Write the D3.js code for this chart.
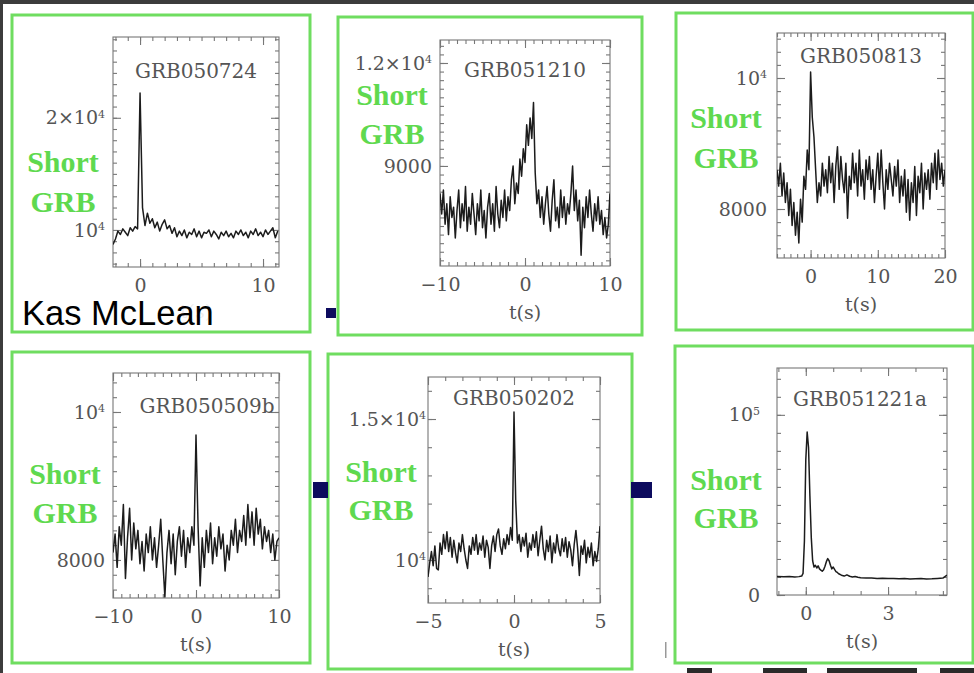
<!DOCTYPE html>
<html><head><meta charset="utf-8">
<script src="https://cdn.jsdelivr.net/npm/d3@7"></script>
<style>body{margin:0;background:#fff}svg{display:block}</style>
</head><body>
<svg id="c" width="974" height="673"></svg>
<script>
// ---------------- DATA ----------------
const grbNames = ["GRB050724","GRB051210","GRB050813","GRB050509b","GRB050202","GRB051221a"];
const sideLabel = ["Short","GRB"];
const xAxisTitle = "t(s)";
const credit = "Kas McLean";

// GRB050724 (bins of 0.2 s starting at -2.2 s)
const start050724 = -2.2, bin050724 = 0.2;
const counts050724 = [8700,9200,9900,9600,10100,9800,9500,10200,9900,10300,10100,22200,12000,10400,11500,10600,11000,10200,10700,9900,
  10500,10900,10100,10400,9700,10200,9400,9900,9500,10000,9300,9800,9600,10100,9400,9900,9300,9800,9700,10000,
  9400,9900,9600,9200,9800,9500,9900,9400,9700,9300,9900,9600,10000,9500,9800,9300,9900,9600,10100,9500,
  9800,9400,10000,9600,9900,10200,9300,9900];

// GRB051210 (bins of 0.2 s starting at -10 s)
const start051210 = -10, bin051210 = 0.2;
const counts051210 = [8200,7600,8300,7300,7900,7000,8100,7500,7800,6900,7700,8300,7200,7900,7400,8400,7100,7800,7300,8200,
  7600,7000,7900,7400,8300,7200,7700,6900,7800,8200,7300,7900,7100,8400,7600,7200,8000,7500,8300,7400,
  8100,7700,8600,9000,7900,8500,8200,9200,8700,9500,9100,10200,9600,10400,9800,10850,8800,7900,8300,7500,
  8100,7300,7900,8400,7600,7100,8000,8600,7400,7800,7200,8300,7500,8100,7300,7900,7600,8200,9000,7700,
  8300,7400,8000,6400,7800,7200,8100,7500,8300,7600,7100,7900,7400,8100,7300,7700,7000,7500,6900,7300,8200];

// GRB050813 (bins of 0.25 s starting at -5 s)
const start050813 = -5, bin050813 = 0.25;
const counts050813 = [8600,8350,8700,8200,8550,8100,8400,7900,8300,7750,8100,7600,7950,7480,8150,7800,8500,8300,8900,8600,
  10090,9400,9100,8600,8100,8400,8200,8700,8350,8600,8250,8800,8400,8700,8100,8650,8950,8300,8800,8450,
  8250,8700,7860,8500,8300,8850,8400,8700,8200,8900,8350,8600,8150,8750,8450,8800,8300,8600,8100,8500,
  8850,8300,8900,8400,8000,8600,8300,8700,8450,8200,8650,8350,8750,8100,8500,8200,8600,7950,8450,7830,
  8400,8100,8650,7900,8500,8250,8700,8000,8550,8300,8600,8150,8700,8400,8850,8300,8900,8450,8700,8350,8600];

// GRB050509b (bins of 0.25 s starting at -10 s)
const start050509b = -10, bin050509b = 0.25;
const counts050509b = [8100,8350,7900,8450,8200,8750,7750,8300,8700,8000,8500,8150,8400,7950,8250,7850,8350,8100,8450,8000,
  8300,7900,8200,8550,8000,7500,8100,8400,7950,8350,7800,8250,8450,8050,8400,7900,8300,8100,8450,8200,
  9690,8450,7650,8300,7900,8400,8100,8500,7950,8300,8050,8450,8150,8350,7850,8200,8000,8400,8200,8550,
  8100,8400,8250,8600,8200,8750,8300,8650,8200,8700,8350,8550,8150,8450,8250,8400,8100,8350,8000,8250,8300];

// GRB050202 (bins of 0.1 s starting at -5 s)
const start050202 = -5, bin050202 = 0.1;
const counts050202 = [9400,9900,10300,9800,10500,9700,9650,10600,10200,10900,10400,11000,10300,10800,10100,10700,10250,9900,10600,10300,
  10900,10400,10000,9700,10500,10200,10800,10350,10900,10200,10600,10350,10850,10100,10700,10450,9700,10500,10850,10300,
  10900,11100,10500,10200,10750,10400,10900,10550,11150,10700,15250,12100,10600,10900,10300,10800,10500,10950,10100,10600,
  10350,10900,10450,11000,10150,10700,11200,10400,10000,10700,10300,10850,9900,10600,10250,10900,10400,10150,10750,10300,
  10800,10100,10650,10350,9800,10550,11050,10400,9450,10500,10200,10700,9900,10450,10100,10600,9800,10300,9950,10400,11200];

// GRB051221a (explicit times, s)
const times051221a = [-1.05,-0.8,-0.6,-0.4,-0.25,-0.15,-0.1,-0.05,0,0.05,0.1,0.15,0.2,0.25,0.3,0.35,0.4,0.45,0.5,0.55,
  0.6,0.65,0.7,0.75,0.8,0.85,0.9,0.95,1.0,1.05,1.1,1.15,1.2,1.3,1.4,1.5,1.6,1.7,1.8,1.9,
  2.0,2.2,2.4,2.6,2.8,3.0,3.2,3.4,3.6,3.8,4.0,4.2,4.4,4.6,4.8,5.0,5.15];
const counts051221a = [10200,10100,10300,10000,10200,10500,12000,30000,75000,90500,82000,55000,32000,19000,15500,16500,15000,16200,14500,13800,
  13200,14000,16000,18500,20200,19000,16500,14500,15500,14200,13000,12500,11800,11000,10500,11200,10400,10000,10300,9900,
  9600,9400,9500,9200,9300,9100,9200,9000,9100,8900,9000,9100,8900,9000,9200,9400,11000];

// Axis ranges and ticks
const xDomains = [[-2.2,11.3],[-10,10],[-5,20],[-10,10],[-5,5],[-1.05,5.15]];
const yDomains = [[6700,27200],[6085,12670],[7252,10687],[7486,10527],[8475,16490],[0,126000]];
const xTickVals = [[0,10],[-10,0,10],[0,10,20],[-10,0,10],[-5,0,5],[0,3]];
const xTickLabels = [["0","10"],["\u221210","0","10"],["0","10","20"],["\u221210","0","10"],["\u22125","0","5"],["0","3"]];
const xMinorStep = [1,1,1,1,1,1];
const yTickVals = [[10000,20000],[9000,12000],[8000,10000],[8000,10000],[10000,15000],[0,100000]];
const yTickLabels = [["10^4","2\u00d710^4"],["9000","1.2\u00d710^4"],["8000","10^4"],["8000","10^4"],["10^4","1.5\u00d710^4"],["0","10^5"]];
const yMinorStep = [1000,250,200,200,1000,10000];

// ---------------- LAYOUT ----------------
const boxes  = [[12,15,310,332],[338,17,642,335],[676,13,973,330],[12,352,310,663],[328,354,632,669],[675,346,973,663]];
const frames = [[113,37,279,267],[440,40,610,266],[777,33,945,258],[113,373,279,598],[428,377,600,603],[777,368,947,595]];
const titleBase = [41,37,30,40,28,38];
const titleShift = [0,0,0,11,0,-2];
const axTitleOff = [51,53,53,53,53,53];
const shortPos = [[63,172,212],[392,105,144],[726,128,168],[65,484,523],[381,482,520],[726,490,528]];
const yLabPad = [8,8,10,8,2,17];

const series = [
  counts050724.map((v,i)=>({t:start050724+i*bin050724, c:v})),
  counts051210.map((v,i)=>({t:start051210+i*bin051210, c:v})),
  counts050813.map((v,i)=>({t:start050813+i*bin050813, c:v})),
  counts050509b.map((v,i)=>({t:start050509b+i*bin050509b, c:v})),
  counts050202.map((v,i)=>({t:start050202+i*bin050202, c:v})),
  counts051221a.map((v,i)=>({t:times051221a[i], c:v}))
];

const svg = d3.select("#c");
const GREEN = "#5fd94f";
const TXT = "#555";
const TICK = "#777";

svg.append("rect").attr("width",974).attr("height",673).attr("fill","#fff");

function supText(sel, lab){
  sel.text(null);
  const parts = lab.split("^");
  sel.append("tspan").text(parts[0]);
  if(parts[1]) sel.append("tspan").attr("dy","-0.6em").attr("font-size","0.58em").text(parts[1]);
}

series.forEach((data,k)=>{
  const [bx0,by0,bx1,by1] = boxes[k];
  svg.append("rect").attr("x",bx0).attr("y",by0).attr("width",bx1-bx0).attr("height",by1-by0)
    .attr("fill","none").attr("stroke",GREEN).attr("stroke-width",3).attr("opacity",0.9);

  const [fx0,fy0,fx1,fy1] = frames[k];
  const w = fx1-fx0, h = fy1-fy0;
  const g = svg.append("g").attr("transform",`translate(${fx0},${fy0})`);
  const x = d3.scaleLinear().domain(xDomains[k]).range([0,w]);
  const y = d3.scaleLinear().domain(yDomains[k]).range([h,0]);

  const xd = xDomains[k], yd = yDomains[k];
  const xMinor = d3.range(Math.ceil(xd[0]/xMinorStep[k])*xMinorStep[k], xd[1]+1e-9, xMinorStep[k]);
  const yMinor = d3.range(Math.ceil(yd[0]/yMinorStep[k])*yMinorStep[k], yd[1]+1e-9, yMinorStep[k]);

  const styleAxis = (a)=>{ a.select(".domain").remove(); a.selectAll("line").attr("stroke",TICK).attr("stroke-width",1.1); };
  // minor ticks
  g.append("g").attr("transform",`translate(0,${h})`).call(d3.axisBottom(x).tickValues(xMinor).tickSizeInner(-4).tickSizeOuter(0).tickFormat("")).call(styleAxis);
  g.append("g").call(d3.axisTop(x).tickValues(xMinor).tickSizeInner(-4).tickSizeOuter(0).tickFormat("")).call(styleAxis);
  g.append("g").call(d3.axisLeft(y).tickValues(yMinor).tickSizeInner(-4).tickSizeOuter(0).tickFormat("")).call(styleAxis);
  g.append("g").attr("transform",`translate(${w},0)`).call(d3.axisRight(y).tickValues(yMinor).tickSizeInner(-4).tickSizeOuter(0).tickFormat("")).call(styleAxis);
  // major ticks
  g.append("g").call(d3.axisTop(x).tickValues(xTickVals[k]).tickSizeInner(-8).tickSizeOuter(0).tickFormat("")).call(styleAxis);
  g.append("g").attr("transform",`translate(${w},0)`).call(d3.axisRight(y).tickValues(yTickVals[k]).tickSizeInner(-8).tickSizeOuter(0).tickFormat("")).call(styleAxis);

  const xa = g.append("g").attr("transform",`translate(0,${h})`)
    .call(d3.axisBottom(x).tickValues(xTickVals[k]).tickSizeInner(-8).tickSizeOuter(0).tickPadding(12)
      .tickFormat((v,i)=>xTickLabels[k][i]));
  styleAxis(xa);
  xa.selectAll("text").attr("font-family","DejaVu Serif").attr("font-size",19).attr("fill",TXT);

  const ya = g.append("g")
    .call(d3.axisLeft(y).tickValues(yTickVals[k]).tickSizeInner(-8).tickSizeOuter(0).tickPadding(yLabPad[k])
      .tickFormat((v,i)=>yTickLabels[k][i]));
  styleAxis(ya);
  ya.selectAll("text").attr("font-family","DejaVu Serif").attr("font-size",19).attr("fill",TXT)
    .each(function(v){ const i = yTickVals[k].indexOf(v); supText(d3.select(this), yTickLabels[k][i]); });

  // frame
  g.append("rect").attr("width",w).attr("height",h).attr("fill","none").attr("stroke",TICK).attr("stroke-width",1.1);

  // clip + light curve
  const cid = "clip"+k;
  g.append("clipPath").attr("id",cid).append("rect").attr("width",w).attr("height",h);
  g.append("path").datum(data).attr("clip-path",`url(#${cid})`)
    .attr("fill","none").attr("stroke","#1c1c1c").attr("stroke-width",1.5).attr("stroke-linejoin","round")
    .attr("d",d3.line().x(d=>x(d.t)).y(d=>y(d.c)));

  // title
  g.append("text").attr("x",w/2+titleShift[k]).attr("y",titleBase[k]).attr("text-anchor","middle")
    .attr("font-family","DejaVu Serif").attr("font-size",20).attr("fill",TXT).text(grbNames[k]);
  // x axis title
  g.append("text").attr("x",w/2).attr("y",h+axTitleOff[k]).attr("text-anchor","middle")
    .attr("font-family","DejaVu Serif").attr("font-size",19).attr("fill",TXT).text(xAxisTitle);

  // Short GRB
  const [sx,s1,s2] = shortPos[k];
  [s1,s2].forEach((yy,j)=>svg.append("text").attr("x",sx).attr("y",yy).attr("text-anchor","middle")
    .attr("font-family","Liberation Serif").attr("font-weight","bold").attr("font-size",30)
    .attr("fill",GREEN).text(sideLabel[j]));
});

// connectors (small navy squares)
const navy = "#0d0b5e";
[[326,308,10,10],[313,482,15,16],[631,482,21,16]].forEach(r=>
  svg.append("rect").attr("x",r[0]).attr("y",r[1]).attr("width",r[2]).attr("height",r[3]).attr("fill",navy));

// credit label with white backing (covers the first panel's axis title, as in the slide)
svg.append("rect").attr("x",16).attr("y",302).attr("width",210).attr("height",27).attr("fill","#fff").attr("opacity",0.9);
svg.append("text").attr("x",22).attr("y",325).attr("font-family","Liberation Sans, Arial").attr("font-size",34.5)
  .attr("fill","#000").text(credit);

// slide edges
svg.append("rect").attr("x",0).attr("y",0).attr("width",974).attr("height",4).attr("fill","#3c3c3c");
svg.append("rect").attr("x",0).attr("y",0).attr("width",3).attr("height",673).attr("fill","#3c3c3c");
[[687,25],[763,44],[827,90],[940,34]].forEach(d=>
  svg.append("rect").attr("x",d[0]).attr("y",668).attr("width",d[1]).attr("height",5).attr("fill","#2a2a2a"));
svg.append("rect").attr("x",665).attr("y",642).attr("width",1.5).attr("height",16).attr("fill","#999");
</script>
</body></html>
